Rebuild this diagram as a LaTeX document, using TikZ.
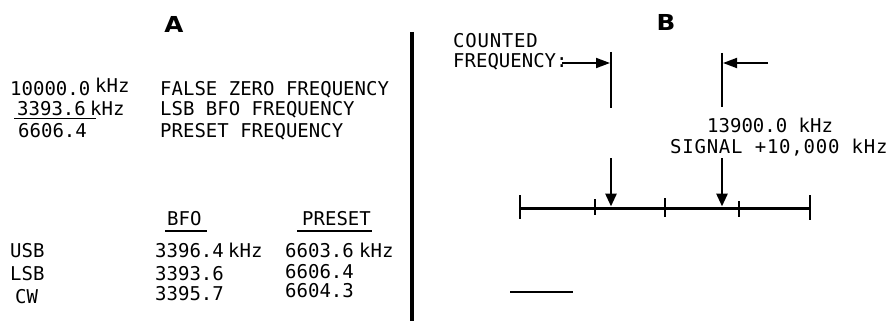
\documentclass[tikz,border=0pt]{standalone}
\usepackage{fontspec}
\usetikzlibrary{arrows.meta}
\newfontfamily\lblfont{DejaVu Sans Mono}
\newfontfamily\widefont{DejaVu Sans Mono}[LetterSpace=4]
\newfontfamily\hdfont{DejaVu Sans}
\begin{document}
\begin{tikzpicture}[x=1pt,y=-1pt,
  lbl/.style={anchor=base west,inner sep=0pt,font=\lblfont\fontsize{19}{19}\selectfont},
  wlbl/.style={anchor=base west,inner sep=0pt,font=\widefont\fontsize{19}{19}\selectfont},
  hd/.style={anchor=center,inner sep=0pt,xscale=1.12,transform shape,font=\hdfont\bfseries\fontsize{22}{22}\selectfont},
  rule/.style={line width=1.6pt},
  bar/.style={line width=4.5pt},
  vline/.style={line width=2.6pt},
  tickmark/.style={line width=1.8pt},
  ptr/.style={line width=2.8pt,-{Triangle[length=13pt,width=11pt]}},
  hptr/.style={line width=1.8pt,-{Triangle[length=14pt,width=10pt]}}]
\useasboundingbox (0,0) rectangle (890,321);
% ---------- A ----------
\node[hd] (A) at (174,24) {A};
\node[lbl] (n1) at (10,95) {10000.0};
\node[lbl] (k1) at (95,92) {kHz};
\node[lbl] (n2) at (17,115) {3393.6};
\node[lbl] (k2) at (90,115) {kHz};
\node[lbl] (n3) at (18,137) {6606.4};
\node[lbl] (t1) at (160,95) {FALSE ZERO FREQUENCY};
\node[lbl] (t2) at (160,115) {LSB BFO FREQUENCY};
\node[lbl] (t3) at (160,137) {PRESET FREQUENCY};
\coordinate (u1a) at (14,118.5); \coordinate (u1b) at (96,118.5);
\draw[rule] (u1a) -- (u1b);
\node[lbl] (hbfo) at (167,225) {BFO};
\node[lbl] (hpre) at (302,225) {PRESET};
\coordinate (u2a) at (165,231); \coordinate (u2b) at (207,231);
\coordinate (u3a) at (297,231); \coordinate (u3b) at (372,231);
\draw[rule] (u2a) -- (u2b);
\draw[rule] (u3a) -- (u3b);
\node[lbl] (r1) at (10,257) {USB};
\node[lbl] (r1b) at (155,257) {3396.4};
\node[lbl] (r1k) at (228,257) {kHz};
\node[lbl] (r1p) at (285,257) {6603.6};
\node[lbl] (r1pk) at (359,257) {kHz};
\node[lbl] (r2) at (10,280) {LSB};
\node[lbl] (r2b) at (155,280) {3393.6};
\node[lbl] (r2p) at (285,278) {6606.4};
\node[lbl] (r3) at (15,303) {CW};
\node[lbl] (r3b) at (155,300) {3395.7};
\node[lbl] (r3p) at (285,297) {6604.3};
% divider
\coordinate (d1) at (412,32); \coordinate (d2) at (412,321);
\draw[bar] (d1) -- (d2);
% ---------- B ----------
\node[hd] (B) at (666,22) {B};
\node[wlbl] (c1) at (453,48) {COUNTED};
\node[lbl] (c2) at (453,67) {FREQUENCY:};
\coordinate (l1t) at (611,52); \coordinate (l1b) at (611,108);
\coordinate (l2t) at (722,53); \coordinate (l2b) at (722,107);
\draw[vline] (l1t) -- (l1b);
\draw[vline] (l2t) -- (l2b);
\coordinate (a1s) at (562,63); \coordinate (a1e) at (610,63);
\coordinate (a2s) at (768,63); \coordinate (a2e) at (723,63);
\draw[hptr] (a1s) -- (a1e);
\draw[hptr] (a2s) -- (a2e);
\node[lbl] (s1) at (707,132) {13900.0 kHz};
\node[wlbl] (s2) at (670,153) {SIGNAL +10,000 kHz};
% axis
\coordinate (ax1) at (520,208); \coordinate (ax2) at (810,208);
\draw[line width=3pt] (ax1) -- (ax2);
\draw[tickmark] (520,195) -- (520,219);
\draw[tickmark] (810,195) -- (810,220);
\draw[tickmark] (595,199) -- (595,215);
\draw[tickmark] (665,198) -- (665,217);
\draw[tickmark] (739,201) -- (739,217);
\coordinate (p1s) at (611,158); \coordinate (p1e) at (611,206.5);
\coordinate (p2s) at (722,158); \coordinate (p2e) at (722,206.5);
\draw[ptr] (p1s) -- (p1e);
\draw[ptr] (p2s) -- (p2e);
% short line
\coordinate (sl1) at (510,292); \coordinate (sl2) at (573,292);
\draw[line width=1.6pt] (sl1) -- (sl2);
\end{tikzpicture}
\end{document}
